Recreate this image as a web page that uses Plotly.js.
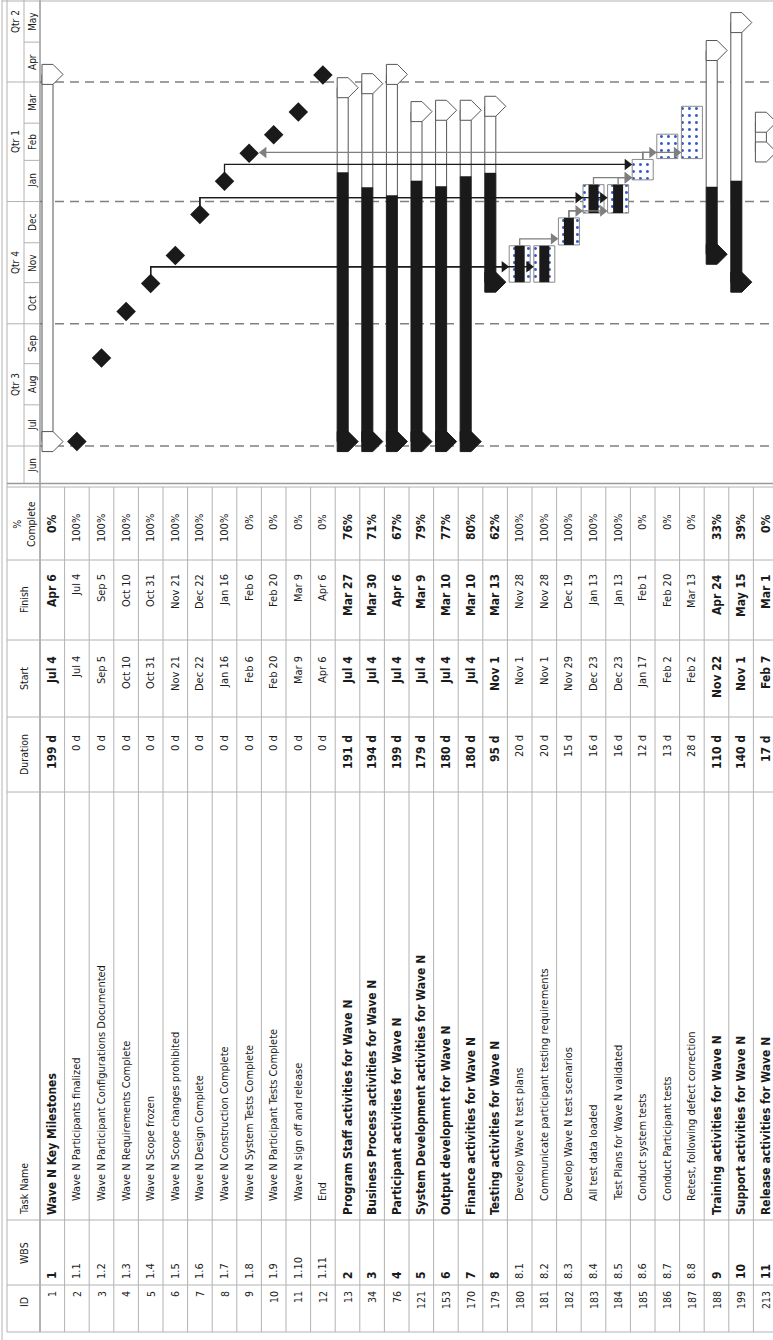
<!DOCTYPE html>
<html>
<head>
<meta charset="utf-8">
<script src="https://cdn.plot.ly/plotly-3.0.1.min.js"></script>
<style>
  html, body { margin: 0; padding: 0; background: #fff; overflow: hidden; width: 773px; height: 1340px; }
  /* The Gantt view is laid out landscape and turned a quarter turn counter-clockwise */
  #stage { position: absolute; left: 0; top: 0; width: 1340px; height: 773px;
           transform-origin: 0 0; transform: translateY(1340px) rotate(-90deg); }
</style>
</head>
<body>
<div id="stage"></div>
<script>
// ---------------- task table ----------------
const taskIds = [1, 2, 3, 4, 5, 6, 7, 8, 9, 10, 11, 12, 13, 34, 76, 121, 153, 170, 179,
                 180, 181, 182, 183, 184, 185, 186, 187, 188, 199, 213];
const wbsCodes = ['1', '1.1', '1.2', '1.3', '1.4', '1.5', '1.6', '1.7', '1.8', '1.9', '1.10', '1.11',
                  '2', '3', '4', '5', '6', '7', '8', '8.1', '8.2', '8.3', '8.4', '8.5', '8.6', '8.7', '8.8',
                  '9', '10', '11'];
const taskNames = [
  'Wave N Key Milestones',
  'Wave N Participants finalized',
  'Wave N Participant Configurations Documented',
  'Wave N Requirements Complete',
  'Wave N Scope frozen',
  'Wave N Scope changes prohibited',
  'Wave N Design Complete',
  'Wave N Construction Complete',
  'Wave N System Tests Complete',
  'Wave N Participant Tests Complete',
  'Wave N sign off and release',
  'End',
  'Program Staff activities for Wave N',
  'Business Process activities for Wave N',
  'Participant activities for Wave N',
  'System Development activities for Wave N',
  'Output developmnt for Wave N',
  'Finance activities for Wave N',
  'Testing activities for Wave N',
  'Develop Wave N test plans',
  'Communicate participant testing requirements',
  'Develop Wave N test scenarios',
  'All test data loaded',
  'Test Plans for Wave N validated',
  'Conduct system tests',
  'Conduct Participant tests',
  'Retest, following defect correction',
  'Training activities for Wave N',
  'Support activities for Wave N',
  'Release activities for Wave N'
];
const outlineLevel = [1, 2, 2, 2, 2, 2, 2, 2, 2, 2, 2, 2, 1, 1, 1, 1, 1, 1, 1,
                      2, 2, 2, 2, 2, 2, 2, 2, 1, 1, 1];
const durationDays = [199, 0, 0, 0, 0, 0, 0, 0, 0, 0, 0, 0, 191, 194, 199, 179, 180, 180, 95,
                      20, 20, 15, 16, 16, 12, 13, 28, 110, 140, 17];
const startDates = ['Jul 4', 'Jul 4', 'Sep 5', 'Oct 10', 'Oct 31', 'Nov 21', 'Dec 22', 'Jan 16', 'Feb 6',
                    'Feb 20', 'Mar 9', 'Apr 6', 'Jul 4', 'Jul 4', 'Jul 4', 'Jul 4', 'Jul 4', 'Jul 4', 'Nov 1',
                    'Nov 1', 'Nov 1', 'Nov 29', 'Dec 23', 'Dec 23', 'Jan 17', 'Feb 2', 'Feb 2',
                    'Nov 22', 'Nov 1', 'Feb 7'];
const finishDates = ['Apr 6', 'Jul 4', 'Sep 5', 'Oct 10', 'Oct 31', 'Nov 21', 'Dec 22', 'Jan 16', 'Feb 6',
                     'Feb 20', 'Mar 9', 'Apr 6', 'Mar 27', 'Mar 30', 'Apr 6', 'Mar 9', 'Mar 10', 'Mar 10', 'Mar 13',
                     'Nov 28', 'Nov 28', 'Dec 19', 'Jan 13', 'Jan 13', 'Feb 1', 'Feb 20', 'Mar 13',
                     'Apr 24', 'May 15', 'Mar 1'];
const percentComplete = [0, 100, 100, 100, 100, 100, 100, 100, 0, 0, 0, 0, 76, 71, 67, 79, 77, 80, 62,
                         100, 100, 100, 100, 100, 0, 0, 0, 33, 39, 0];

// predecessor -> successor links (by task ID)
const linkFrom = [5, 5, 7, 7, 8, 180, 182, 182, 183, 184, 185, 185, 185];
const linkTo   = [180, 181, 183, 184, 185, 182, 183, 184, 185, 185, 186, 187, 9];

// column headers
const columnHeaders = ['ID', 'WBS', 'Task Name', 'Duration', 'Start', 'Finish', '%<br>Complete'];

// timescale
const quarterStarts = ['2010-07-01', '2010-10-01', '2011-01-01', '2011-04-01'];
const quarterLabels = ['Qtr 3', 'Qtr 4', 'Qtr 1', 'Qtr 2'];
const monthStarts = ['2010-06-01', '2010-07-01', '2010-08-01', '2010-09-01', '2010-10-01', '2010-11-01',
                     '2010-12-01', '2011-01-01', '2011-02-01', '2011-03-01', '2011-04-01', '2011-05-01'];
const monthLabels = ['Jun', 'Jul', 'Aug', 'Sep', 'Oct', 'Nov', 'Dec', 'Jan', 'Feb', 'Mar', 'Apr', 'May'];

// ---------------- geometry & style ----------------
const W = 1340, H = 773;            // landscape frame before the quarter turn
const GANTT_LEFT = 857;             // where the bar chart pane begins
const TIME_RANGE = ['2010-06-03 04:00', '2011-06-01 17:00'];
const ROW = 24.6, TOP = 40;         // row pitch and header height (px)
const FONT = 'Liberation Sans Narrow, Arial Narrow, DejaVu Sans Condensed, Liberation Sans, sans-serif';
const INK = '#1a1a1a', GRID = '#b2b2b2', LINK_GREY = '#7f7f7f';

// table column borders and text anchors (px along the landscape width)
const colEdges = [8, 55, 120, 548, 623, 700, 780, 853];
const headerPos = [{u: 38, a: 'center'}, {u: 87, a: 'center'}, {u: 123, a: 'left'}, {u: 585, a: 'center'},
                   {u: 661, a: 'center'}, {u: 740, a: 'center'}, {u: 816, a: 'center'}];

const DAY = 86400000;
const MONTH_IDX = {Jan: 0, Feb: 1, Mar: 2, Apr: 3, May: 4, Jun: 5, Jul: 6, Aug: 7, Sep: 8, Oct: 9, Nov: 10, Dec: 11};
function parseDay(s) {                       // "Jul 4" -> ms; Jun..Dec fall in the first year
  const [m, d] = s.split(' ');
  const mi = MONTH_IDX[m];
  return Date.UTC(mi >= 5 ? 2010 : 2011, mi, +d);
}
const toMs = s => Date.parse(s.replace(' ', 'T') + (s.length > 10 ? ':00Z' : 'T00:00:00Z'));
const iso = ms => new Date(ms).toISOString().replace('T', ' ').replace('Z', '');
const t0 = toMs(TIME_RANGE[0]), t1 = toMs(TIME_RANGE[1]);
const pxPerMs = (W - GANTT_LEFT) / (t1 - t0);
const px2ms = px => px / pxPerMs;
const vr = v => (v - TOP) / ROW;             // pixel row offset -> row axis units

const startMs = startDates.map(s => parseDay(s) + 8 * 3600e3);
const finishMs = finishDates.map(s => parseDay(s) + 17 * 3600e3);
const isSummary = outlineLevel.map(l => l === 1);
const isMilestone = durationDays.map(d => d === 0);
const rows = taskIds.map((_, i) => i);

// ---------------- bars ----------------
const BODY_TOP = 2, BODY_H = 11;             // summary bar body inside its row
const TASK_H = 21, PROG_H = 10;
const DIAMOND_SIZE = 15, DIAMOND_HALF = 1.3 * DIAMOND_SIZE / 2;

const sumRows = rows.filter(i => isSummary[i]);
const taskRows = rows.filter(i => !isSummary[i] && !isMilestone[i]);
const msRows = rows.filter(i => isMilestone[i]);
const progressMs = i => (finishMs[i] - startMs[i]) * percentComplete[i] / 100;

const traces = [];
traces.push({
  type: 'bar', orientation: 'h', y: sumRows.map(i => i + 0.5),
  base: sumRows.map(i => iso(startMs[i])), x: sumRows.map(i => finishMs[i] - startMs[i]),
  width: BODY_H / ROW, offset: BODY_TOP / ROW - 0.5,
  marker: {color: '#ffffff', line: {color: '#555555', width: 1}}
});
const sumProg = sumRows.filter(i => percentComplete[i] > 0);
traces.push({
  type: 'bar', orientation: 'h', y: sumProg.map(i => i + 0.5),
  base: sumProg.map(i => iso(startMs[i])), x: sumProg.map(i => progressMs(i)),
  width: BODY_H / ROW, offset: BODY_TOP / ROW - 0.5,
  marker: {color: INK, line: {color: INK, width: 0.5}}
});
traces.push({
  type: 'bar', orientation: 'h', y: taskRows.map(i => i + 0.5),
  base: taskRows.map(i => iso(startMs[i])), x: taskRows.map(i => finishMs[i] - startMs[i]),
  width: TASK_H / ROW,
  marker: {color: '#ffffff', line: {color: '#8a8a8a', width: 1},
           pattern: {shape: '.', fgcolor: '#3559c4', bgcolor: '#ffffff', size: 7, solidity: 0.14}}
});
const taskProg = taskRows.filter(i => percentComplete[i] > 0);
traces.push({
  type: 'bar', orientation: 'h', y: taskProg.map(i => i + 0.5),
  base: taskProg.map(i => iso(startMs[i])), x: taskProg.map(i => progressMs(i)),
  width: PROG_H / ROW, marker: {color: INK, line: {width: 0}}
});

// summary end caps: small pentagons pointing into the row
const CAP = [[-10, 2], [10, 2], [10, 13], [0, 23], [-10, 13], [-10, 2]];
const capWhite = {x: [], y: []}, capBlack = {x: [], y: []};
sumRows.forEach(i => {
  const ends = [[startMs[i], percentComplete[i] > 0], [finishMs[i], percentComplete[i] >= 100]];
  ends.forEach(([c, filled]) => {
    const tgt = filled ? capBlack : capWhite;
    CAP.forEach(([du, dv]) => { tgt.x.push(iso(c + px2ms(du))); tgt.y.push(vr(TOP + ROW * i + dv)); });
    tgt.x.push(null); tgt.y.push(null);
  });
});
traces.push({type: 'scatter', mode: 'lines', x: capWhite.x, y: capWhite.y, fill: 'toself',
             fillcolor: '#ffffff', line: {color: '#555555', width: 1}});
traces.push({type: 'scatter', mode: 'lines', x: capBlack.x, y: capBlack.y, fill: 'toself',
             fillcolor: INK, line: {color: INK, width: 1}});

// ---------------- dependency links ----------------
const LINK_GAP = 7, ARROW_SIZE = 10, ARROW_R = ARROW_SIZE / 2;
const linkSets = {grey: {x: [], y: []}, dark: {x: [], y: []}};
const heads = {grey: {x: [], y: [], s: []}, dark: {x: [], y: [], s: []}};
linkFrom.forEach((fromId, k) => {
  const p = taskIds.indexOf(fromId), s = taskIds.indexOf(linkTo[k]);
  const key = isMilestone[p] ? 'dark' : 'grey';   // links leaving a milestone are drawn dark
  const begin = isMilestone[p] ? startMs[p] : finishMs[p];
  const tip = isMilestone[p] ? begin + px2ms(DIAMOND_HALF) : begin;
  const turn = tip + px2ms(LINK_GAP);
  const vp = TOP + ROW * (p + 0.5);
  const down = s > p;
  const half = isMilestone[s] ? DIAMOND_HALF : TASK_H / 2;
  const vEdge = TOP + ROW * (s + 0.5) + (down ? -half : half);
  const vHead = vEdge + (down ? -ARROW_R : ARROW_R);
  linkSets[key].x.push(iso(begin), iso(turn), iso(turn), null);
  linkSets[key].y.push(vr(vp), vr(vp), vr(vHead), null);
  heads[key].x.push(iso(turn)); heads[key].y.push(vr(vHead));
  heads[key].s.push(down ? 'triangle-down' : 'triangle-up');
});
[['grey', LINK_GREY], ['dark', INK]].forEach(([key, col]) => {
  traces.push({type: 'scatter', mode: 'lines', x: linkSets[key].x, y: linkSets[key].y,
               line: {color: col, width: 1.3}});
  traces.push({type: 'scatter', mode: 'markers', x: heads[key].x, y: heads[key].y,
               marker: {symbol: heads[key].s, size: ARROW_SIZE, color: col, line: {width: 0}}});
});

// milestones
traces.push({type: 'scatter', mode: 'markers', x: msRows.map(i => iso(startMs[i])), y: msRows.map(i => i + 0.5),
             marker: {symbol: 'diamond', size: DIAMOND_SIZE, color: INK, line: {width: 0}}});

// ---------------- grid, borders, timescale ----------------
const shapes = [];
const line = (o) => shapes.push(Object.assign({type: 'line', layer: 'below', line: {color: GRID, width: 1}}, o));
// outer strip and header edges
line({xref: 'paper', yref: 'y', x0: 0, x1: 1, y0: vr(2), y1: vr(2)});
line({xref: 'paper', yref: 'y', x0: colEdges[0] / W, x1: 1, y0: vr(7), y1: vr(7)});
line({xref: 'paper', yref: 'y', x0: colEdges[0] / W, x1: 1, y0: 0, y1: 0, line: {color: '#9a9a9a', width: 1.5}});
// table rows
for (let i = 1; i <= taskIds.length; i++) {
  line({xref: 'paper', yref: 'y', x0: colEdges[0] / W, x1: colEdges[colEdges.length - 1] / W, y0: i, y1: i});
}
// table columns
colEdges.forEach(u => line({xref: 'paper', yref: 'y', x0: u / W, x1: u / W, y0: vr(7), y1: vr(H)}));
line({xref: 'paper', yref: 'y', x0: 856.5 / W, x1: 856.5 / W, y0: vr(7), y1: vr(H), line: {color: '#9a9a9a', width: 1.5}});
line({xref: 'paper', yref: 'y', x0: 1339 / W, x1: 1339 / W, y0: vr(2), y1: vr(H)});
// timescale tiers
line({xref: 'paper', yref: 'y', x0: GANTT_LEFT / W, x1: 1, y0: vr(24), y1: vr(24)});
quarterStarts.forEach(q => line({xref: 'x', yref: 'y', x0: q, x1: q, y0: vr(7), y1: vr(24)}));
monthStarts.slice(1).forEach(m => line({xref: 'x', yref: 'y', x0: m, x1: m, y0: vr(24), y1: 0}));
// quarter gridlines across the chart
quarterStarts.forEach(q => line({xref: 'x', yref: 'y', x0: q, x1: q, y0: 0, y1: vr(H),
                                 line: {color: '#808080', width: 1.5, dash: '9px,6px'}}));

// ---------------- text ----------------
const annotations = [];
const txt = (o, size, weight) => annotations.push(Object.assign({showarrow: false, yanchor: 'middle',
  font: {family: FONT, size: size, color: INK, weight: weight || 400}}, o));

columnHeaders.forEach((h, c) => txt({xref: 'paper', yref: 'y', x: headerPos[c].u / W, y: vr(23.5), text: h,
                                      xanchor: headerPos[c].a, align: 'center'}, 10.5));
const quarterMid = q => { const d = new Date(toMs(q)); return iso((toMs(q) + Date.UTC(d.getUTCFullYear(), d.getUTCMonth() + 3, 1)) / 2); };
const monthMid = m => { const d = new Date(toMs(m)); return iso((toMs(m) + Date.UTC(d.getUTCFullYear(), d.getUTCMonth() + 1, 1)) / 2); };
quarterStarts.forEach((q, k) => txt({xref: 'x', yref: 'y', x: quarterMid(q), y: vr(15.5), text: quarterLabels[k], xanchor: 'center'}, 10));
monthStarts.forEach((m, k) => txt({xref: 'x', yref: 'y', x: monthMid(m), y: vr(32), text: monthLabels[k], xanchor: 'center'}, 10));

rows.forEach(i => {
  const bold = isSummary[i];
  const w = bold ? 700 : 400;
  const fs = bold ? 12 : 11;
  const y = i + 0.5;
  txt({xref: 'paper', yref: 'y', x: 51 / W, y, text: String(taskIds[i]), xanchor: 'right'}, 10.5);
  txt({xref: 'paper', yref: 'y', x: 59 / W, y, text: wbsCodes[i], xanchor: 'left'}, fs, w);
  txt({xref: 'paper', yref: 'y', x: (bold ? 123 : 137) / W, y, text: taskNames[i], xanchor: 'left'}, fs, w);
  txt({xref: 'paper', yref: 'y', x: 607 / W, y, text: durationDays[i] + ' d', xanchor: 'right'}, fs, w);
  txt({xref: 'paper', yref: 'y', x: 686 / W, y, text: startDates[i], xanchor: 'right'}, fs, w);
  txt({xref: 'paper', yref: 'y', x: 768 / W, y, text: finishDates[i], xanchor: 'right'}, fs, w);
  txt({xref: 'paper', yref: 'y', x: 828 / W, y, text: percentComplete[i] + '%', xanchor: 'right'}, fs, w);
});

const layout = {
  width: W, height: H, margin: {l: 0, r: 0, t: 0, b: 0, pad: 0},
  paper_bgcolor: '#ffffff', plot_bgcolor: 'rgba(0,0,0,0)',
  showlegend: false, barmode: 'overlay', hovermode: false,
  xaxis: {type: 'date', domain: [GANTT_LEFT / W, 1], range: TIME_RANGE, visible: false, fixedrange: true},
  yaxis: {range: [vr(H), vr(0)], domain: [0, 1], visible: false, fixedrange: true},
  shapes: shapes, annotations: annotations
};

Plotly.newPlot('stage', traces, layout, {staticPlot: true, displayModeBar: false, responsive: false});
</script>
</body>
</html>
